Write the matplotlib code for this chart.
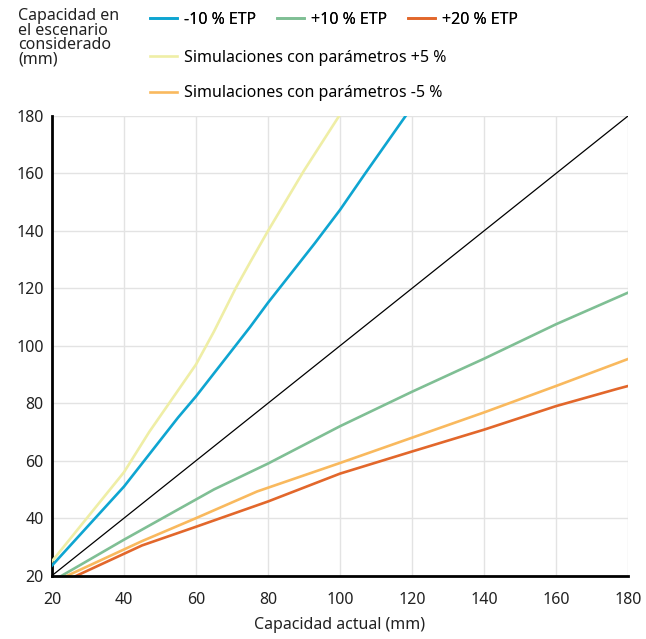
import matplotlib
matplotlib.use("Agg")
import matplotlib.pyplot as plt

plt.rcParams['font.family'] = ['Noto Sans', 'DejaVu Sans']

# values
ref_x = [20, 180]
ref_y = [20, 180]

blue_x = [20, 40, 55, 60, 75, 80, 93, 100, 107, 118.5]
blue_y = [23.5, 51, 75, 82.4, 106.5, 115, 135.7, 147.3, 160, 180.5]

yellow_x = [20, 40, 47, 60, 65, 71, 75, 80, 90, 100]
yellow_y = [25, 56, 70, 93.5, 105, 120, 129, 140, 161, 180.5]

green_x = [20, 40, 65, 80, 100, 120, 133, 140, 155, 160, 180]
green_y = [18, 32.5, 50, 59, 72, 84, 91.5, 95.5, 104.5, 107.5, 118.5]

orange_x = [20, 45, 60, 77, 100, 120, 140, 160, 180]
orange_y = [17.5, 32, 40, 49.3, 59.2, 68, 76.8, 86, 95.4]

red_x = [20, 45, 60, 80, 100, 120, 140, 160, 177, 180]
red_y = [16, 30.5, 37, 45.8, 55.5, 63.2, 70.8, 79, 85, 86]

ticks = [20, 40, 60, 80, 100, 120, 140, 160, 180]

W, H = 646, 639
fig = plt.figure(figsize=(W / 100, H / 100), dpi=100)
ax = fig.add_axes([52 / W, 1 - 575.6 / H, 576 / W, (575.6 - 116) / H])

ax.plot(ref_x, ref_y, color='black', lw=0.9, zorder=3)
l_blue, = ax.plot(blue_x, blue_y, color='#0ea5d1', lw=1.9, label='-10 % ETP', zorder=4)
l_green, = ax.plot(green_x, green_y, color='#7fbf94', lw=1.9, label='+10 % ETP', zorder=4)
l_red, = ax.plot(red_x, red_y, color='#e2672b', lw=1.9, label='+20 % ETP', zorder=5)
l_yellow, = ax.plot(yellow_x, yellow_y, color='#efeea6', lw=1.9,
                    label='Simulaciones con parámetros +5 %', zorder=4)
l_orange, = ax.plot(orange_x, orange_y, color='#f9b95e', lw=1.9,
                    label='Simulaciones con parámetros -5 %', zorder=4)

ax.set_xlim(20, 180)
ax.set_ylim(20, 180)
ax.set_xticks(ticks)
ax.set_yticks(ticks)
ax.tick_params(length=0, labelsize=11.5, colors='#222222')
ax.tick_params(axis='x', pad=12)
ax.tick_params(axis='y', pad=6)
ax.grid(True, color='#e3e3e3', lw=1.0)
ax.set_axisbelow(True)
for s in ['top', 'right']:
    ax.spines[s].set_visible(False)
for s in ['left', 'bottom']:
    ax.spines[s].set_linewidth(2)
    ax.spines[s].set_color('black')
ax.spines['bottom'].set_zorder(6)

ax.set_xlabel('Capacidad actual (mm)', fontsize=11.5, color='#222222', labelpad=6)

fig.text(18 / W, 1 - 8 / H, 'Capacidad en\nel escenario\nconsiderado\n(mm)',
         fontsize=11.5, va='top', ha='left', linespacing=0.88, color='#222222')

leg1 = fig.legend(handles=[l_blue, l_green, l_red], loc='upper left',
                  bbox_to_anchor=(150 / W, 1 - 12 / H), ncol=3, frameon=False,
                  fontsize=11.5, handlelength=1.7, handletextpad=0.45,
                  columnspacing=1.28, borderpad=0, borderaxespad=0)
fig.add_artist(leg1)
fig.legend(handles=[l_yellow, l_orange], loc='upper left',
           bbox_to_anchor=(150 / W, 1 - 50 / H), ncol=1, frameon=False,
           fontsize=11.5, handlelength=1.7, handletextpad=0.45,
           labelspacing=1.2, borderpad=0, borderaxespad=0)

fig.savefig('out.png', dpi=100)
